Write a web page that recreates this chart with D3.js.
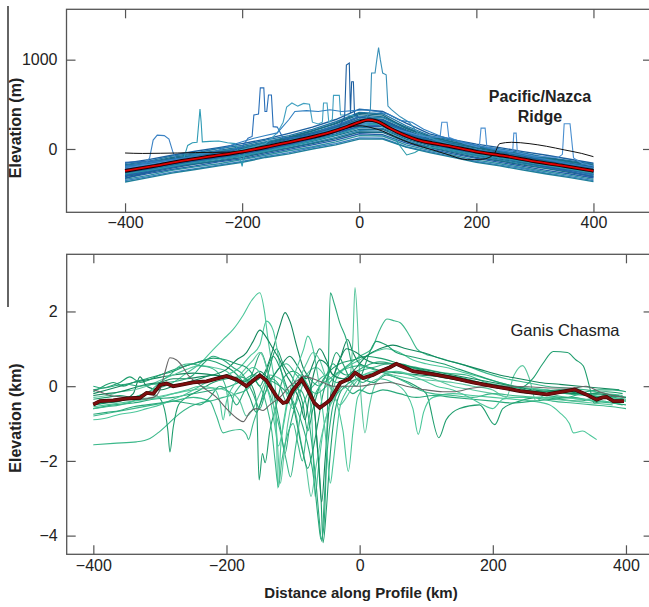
<!DOCTYPE html>
<html><head><meta charset="utf-8">
<script src="https://cdnjs.cloudflare.com/ajax/libs/d3/7.8.5/d3.min.js"></script>
<style>
html,body{margin:0;padding:0;background:#fff;}
svg{display:block;}
.tick text{font-family:"Liberation Sans",Arial,sans-serif;fill:#222;}
</style></head>
<body>
<svg id="chart" width="649" height="607"></svg>
<script>
// ---------------- DATA ----------------
const xTicks = [-400, -200, 0, 200, 400];
const ridgeYTicks = [0, 1000];
const ganisYTicks = [-4, -2, 0, 2];

// Pacific/Nazca Ridge: common distance grid (km) for the dense band of profiles
const ridgeX = [-400,-360,-320,-280,-240,-200,-160,-120,-80,-40,0,40,80,120,160,200,240,280,320,360,400];
// elevation (m) of each band profile on ridgeX
const ridgeBand = [
  [-160,-120,-70,-25,15,60,110,175,245,330,445,420,290,170,105,55,15,-30,-70,-115,-160],
  [-175,-135,-80,-45,5,40,100,150,220,305,410,395,260,150,95,35,0,-45,-95,-130,-170],
  [-185,-150,-95,-55,-15,25,80,135,205,280,385,360,245,130,75,30,-20,-55,-105,-150,-185],
  [-200,-155,-110,-60,-25,15,75,125,185,265,365,350,230,125,65,15,-25,-70,-110,-155,-200],
  [-210,-170,-115,-80,-35,0,55,120,180,250,355,330,215,110,60,10,-40,-80,-125,-165,-205],
  [-220,-175,-125,-85,-45,-10,50,100,165,245,335,325,200,105,45,-10,-45,-90,-135,-170,-220],
  [-230,-185,-135,-90,-55,-15,45,90,160,225,325,305,195,90,40,-15,-55,-95,-145,-185,-230],
  [-240,-190,-145,-105,-60,-25,30,85,145,220,305,295,180,85,30,-25,-65,-110,-150,-195,-235],
  [-250,-205,-150,-115,-75,-35,20,70,135,200,290,280,165,70,20,-35,-75,-120,-165,-205,-250],
  [-260,-215,-165,-120,-85,-40,10,60,120,190,270,265,150,60,10,-45,-80,-130,-175,-215,-260],
  [-270,-225,-170,-135,-90,-55,0,55,110,170,255,250,135,55,0,-50,-95,-140,-180,-225,-270],
  [-280,-235,-185,-140,-105,-60,-10,40,100,160,240,230,125,45,-5,-65,-100,-150,-195,-235,-280],
  [-290,-240,-195,-155,-110,-75,-20,30,85,150,220,220,110,35,-20,-75,-115,-160,-205,-240,-290],
  [-300,-255,-200,-165,-125,-80,-30,15,70,130,205,200,95,20,-30,-80,-125,-170,-215,-255,-300],
  [-310,-265,-215,-170,-135,-95,-40,10,60,115,190,185,80,15,-40,-95,-135,-180,-220,-265,-310],
  [-325,-275,-230,-190,-145,-110,-55,-5,45,100,170,160,65,0,-55,-105,-150,-195,-240,-280,-325],
  [-340,-295,-240,-200,-165,-120,-70,-20,25,80,150,145,45,-15,-70,-125,-165,-210,-255,-295,-340],
  [-355,-310,-260,-220,-180,-140,-85,-40,15,60,125,120,25,-30,-85,-140,-180,-220,-270,-310,-355],
  [-370,-320,-270,-230,-190,-150,-95,-55,0,45,110,110,20,-40,-95,-150,-190,-235,-280,-320,-365],
  [-150,-140,-120,-95,-60,-40,20,90,170,260,360,300,160,80,20,-50,-90,-140,-180,-230,-290],
  [-330,-260,-190,-130,-80,-25,40,110,170,230,330,320,200,100,40,-20,-55,-95,-135,-170,-205],
  [-200,-180,-140,-110,-80,-45,0,60,130,200,280,300,190,100,50,-5,-55,-100,-150,-200,-260],
  [-270,-215,-150,-100,-60,-20,40,95,160,240,330,305,170,90,35,-20,-60,-100,-140,-185,-230],
  [-235,-195,-160,-125,-80,-35,15,70,150,230,315,290,175,80,20,-35,-80,-125,-170,-210,-255],
  [-195,-165,-105,-75,-40,5,65,130,200,290,400,380,230,140,80,20,-30,-60,-100,-140,-180],
  [-300,-245,-205,-150,-100,-65,-5,50,115,185,250,260,140,65,5,-60,-100,-145,-200,-250,-315]
];
// profiles with isolated seamount spikes: [km, m]
const ridgeSpikes = [
  [[-400,-200],[-380,-185],[-365,-170],[-358,-100],[-352,100],[-345,155],[-333,150],[-325,110],[-318,-40],[-312,-120],[-290,-110],[-260,-75],[-230,-50],[-200,-20],[-160,30],[-120,95],[-80,155],[-40,230],[0,320],[30,300],[60,210],[100,110],[140,55],[180,0],[220,-40],[260,-85],[300,-130],[340,-170],[370,-200],[400,-230]],
  [[-400,-230],[-360,-185],[-320,-140],[-300,-110],[-293,40],[-285,70],[-277,75],[-274,300],[-272,448],[-270,300],[-268,80],[-255,85],[-240,90],[-225,70],[-212,60],[-205,-60],[-200,-195],[-196,-40],[-185,10],[-150,50],[-110,110],[-70,170],[-30,240],[0,290],[40,270],[80,160],[120,70],[160,15],[200,-40],[240,-80],[280,-125],[320,-170],[360,-210],[400,-250]],
  [[-400,-220],[-350,-170],[-300,-115],[-250,-60],[-220,-20],[-200,20],[-190,120],[-183,140],[-180,380],[-172,390],[-169,684],[-163,684],[-161,420],[-158,420],[-155,605],[-150,605],[-147,250],[-140,245],[-130,120],[-100,130],[-60,190],[-20,260],[0,310],[30,300],[70,200],[110,100],[150,50],[200,-20],[250,-80],[300,-130],[350,-180],[400,-240]],
  [[-400,-250],[-340,-175],[-280,-105],[-230,-55],[-190,10],[-160,60],[-140,180],[-130,300],[-124,470],[-115,515],[-105,480],[-95,510],[-85,500],[-80,300],[-70,280],[-63,300],[-61,515],[-55,515],[-52,300],[-46,330],[-44,600],[-34,600],[-32,380],[-20,380],[0,360],[20,330],[40,250],[80,140],[120,80],[160,30],[200,-25],[250,-80],[300,-135],[350,-185],[400,-240]],
  [[-400,-265],[-350,-210],[-300,-150],[-250,-100],[-200,-50],[-150,15],[-100,90],[-60,160],[-35,230],[-25,360],[-22,940],[-17,962],[-15,400],[-13,752],[-10,752],[-8,380],[0,350],[15,360],[40,290],[80,170],[120,80],[160,20],[200,-40],[250,-90],[300,-145],[350,-195],[400,-250]],
  [[-400,-235],[-350,-180],[-300,-125],[-250,-75],[-200,-25],[-150,40],[-100,105],[-50,190],[-10,280],[10,330],[19,430],[21,850],[27,850],[30,1000],[33,1134],[36,1000],[40,850],[46,830],[49,480],[55,440],[70,360],[85,300],[100,180],[130,100],[160,40],[200,-20],[250,-75],[300,-130],[350,-185],[400,-240]],
  [[-400,-280],[-350,-230],[-300,-170],[-250,-120],[-200,-70],[-150,-10],[-100,60],[-50,140],[-10,220],[20,280],[41,290],[55,170],[70,30],[81,-67],[95,-40],[110,20],[140,10],[180,-40],[220,-80],[260,-120],[300,-165],[350,-215],[400,-270]],
  [[-400,-215],[-340,-150],[-280,-90],[-220,-40],[-160,20],[-100,100],[-50,180],[0,290],[30,300],[70,210],[110,140],[138,130],[141,300],[150,300],[153,130],[180,60],[205,20],[208,233],[215,233],[218,20],[240,-10],[262,-30],[264,177],[268,177],[270,-40],[300,-80],[340,-95],[347,-60],[350,282],[360,282],[366,-100],[380,-160],[400,-190]],
  [[-400,-190],[-300,-100],[-250,-40],[-220,40],[-200,80],[-180,120],[-160,150],[-140,180],[-120,330],[-110,420],[-90,430],[-70,420],[-50,440],[-30,420],[-10,430],[10,440],[30,420],[50,390],[70,320],[90,300],[110,220],[140,140],[170,90],[200,40],[240,-20],[280,-70],[320,-120],[360,-170],[400,-210]]
];
const ridgeBlack = [[-400,-45],[-370,-50],[-340,-48],[-310,-45],[-280,-40],[-250,-38],[-220,-35],[-200,-25],[-170,10],[-140,50],[-100,110],[-60,170],[-30,220],[0,260],[20,240],[40,200],[60,140],[90,60],[120,0],[150,-60],[185,-120],[210,-115],[230,-60],[240,60],[260,75],[290,60],[320,30],[350,-10],[380,-50],[400,-86]];
const ridgeMean = [[-400,-245],[-350,-190],[-300,-130],[-250,-80],[-200,-30],[-150,35],[-100,105],[-50,185],[-20,250],[0,300],[15,325],[30,310],[50,240],[75,160],[100,100],[125,65],[150,37],[200,-30],[250,-80],[300,-140],[350,-190],[400,-245]];

// Ganis Chasma profiles: [km, km]
const ganisProfiles = [
  [[-400,-1.57],[-370,-1.53],[-335,-1.49],[-315,-1.4],[-303,-1.25],[-290,-1.05],[-275,-0.8],[-255,-0.55],[-240,-0.45],[-225,-0.4],[-205,-0.3],[-185,-0.2],[-170,-0.1],[-160,0.1],[-150,0.3],[-140,0.0],[-128,-0.6],[-118,-1.3],[-110,-2.0],[-104,-2.43],[-96,-1.6],[-88,-0.7],[-78,-0.2],[-65,0.1],[-50,0.3],[-35,0.1],[-20,0.2],[0,0.4],[20,0.5],[45,0.6],[70,0.55],[100,0.45],[130,0.35],[160,0.3],[190,0.1],[220,0.0],[250,-0.05],[280,-0.1],[310,-0.2],[340,-0.25],[370,-0.3],[395,-0.35]],
  [[-400,-0.35],[-380,-0.3],[-360,-0.25],[-340,-0.3],[-320,-0.2],[-305,-0.25],[-295,-0.5],[-288,-1.2],[-285,-1.76],[-280,-1.1],[-272,-0.5],[-260,-0.3],[-240,-0.1],[-220,0.1],[-200,0.2],[-180,0.25],[-165,0.1],[-155,-0.4],[-151,-2.51],[-146,-1.8],[-142,-2.05],[-135,-1.2],[-125,-0.5],[-115,0.2],[-100,0.4],[-85,0.2],[-70,-0.3],[-64,-1.5],[-58,-3.0],[-55,-4.19],[-50,-3.3],[-45,-2.0],[-38,-0.8],[-30,-0.2],[-15,0.1],[0,0.2],[20,0.1],[40,0.3],[60,0.2],[85,0.0],[100,-0.2],[119,-1.38],[130,-0.9],[150,-0.6],[180,-0.5],[203,-1.03],[215,-0.6],[240,-0.4],[270,-0.3],[300,-0.35],[330,-0.4],[360,-0.3],[385,-0.35],[400,-0.4]],
  [[-400,-0.5],[-370,-0.4],[-340,-0.3],[-310,-0.1],[-280,0.1],[-260,0.35],[-240,0.6],[-220,0.98],[-205,1.25],[-190,1.52],[-175,1.9],[-162,2.3],[-150,2.5],[-143,2.0],[-138,1.3],[-132,0.6],[-126,-0.2],[-123,-2.73],[-118,-1.5],[-110,-0.5],[-100,0.0],[-90,0.3],[-80,0.1],[-72,-0.8],[-67,-2.95],[-62,-2.2],[-55,-1.2],[-45,-0.5],[-35,0.2],[-20,0.5],[0,0.7],[20,0.9],[40,1.0],[60,0.9],[80,0.7],[100,0.6],[130,0.5],[160,0.35],[190,0.2],[220,0.05],[250,-0.05],[280,-0.1],[310,-0.15],[340,-0.2],[370,-0.25],[400,-0.3]],
  [[-400,-0.2],[-380,-0.1],[-360,0.0],[-340,0.1],[-310,0.2],[-280,0.3],[-250,0.35],[-220,0.3],[-190,0.2],[-165,0.1],[-145,0.3],[-130,1.0],[-120,1.6],[-112,1.97],[-104,1.7],[-95,1.1],[-85,0.5],[-75,0.1],[-67,-0.8],[-62,-2.0],[-57,-3.1],[-52,-2.0],[-46,-0.6],[-38,0.3],[-28,0.8],[-18,1.25],[-10,0.9],[0,0.6],[15,0.5],[35,0.4],[60,0.35],[90,0.3],[120,0.25],[150,0.15],[180,0.05],[210,-0.05],[240,-0.1],[270,-0.15],[300,-0.1],[330,-0.2],[360,-0.3],[390,-0.25]],
  [[-400,-0.6],[-370,-0.5],[-340,-0.45],[-310,-0.35],[-280,-0.3],[-250,-0.2],[-220,-0.1],[-195,0.0],[-175,0.15],[-160,0.3],[-140,0.2],[-120,0.0],[-100,-0.4],[-85,-1.1],[-75,-1.8],[-68,-2.6],[-62,-3.6],[-58,-4.1],[-54,-3.8],[-50,-2.0],[-47,0.5],[-44,2.5],[-38,2.2],[-30,1.7],[-20,1.25],[-12,0.6],[-5,0.2],[5,0.1],[20,0.3],[40,0.5],[60,0.6],[80,0.5],[110,0.3],[140,0.2],[170,0.1],[200,0.0],[230,-0.1],[260,-0.2],[290,-0.2],[320,-0.1],[350,-0.25],[380,-0.3],[400,-0.35]],
  [[-400,-0.45],[-370,-0.4],[-340,-0.35],[-310,-0.3],[-280,-0.2],[-250,-0.1],[-220,-0.05],[-195,-0.15],[-180,-0.4],[-170,-0.8],[-160,-0.6],[-150,-0.2],[-135,0.3],[-120,0.2],[-105,-0.2],[-95,-0.8],[-88,-1.5],[-80,-2.2],[-73,-2.95],[-66,-2.2],[-58,-1.4],[-48,-0.7],[-38,-0.3],[-28,-0.1],[-20,0.0],[-14,0.3],[-10,1.3],[-7,2.64],[-3,1.6],[0,0.3],[3,-0.5],[8,-1.25],[14,-0.6],[22,0.0],[35,0.3],[55,0.4],[80,0.3],[110,0.2],[140,0.0],[170,-0.1],[200,-0.2],[230,-0.3],[260,-0.3],[290,-0.35],[320,-0.4],[350,-0.45],[380,-0.5]],
  [[-400,-0.8],[-370,-0.7],[-340,-0.6],[-310,-0.5],[-280,-0.4],[-250,-0.3],[-225,-0.4],[-215,-0.8],[-205,-1.25],[-195,-1.2],[-180,-1.16],[-170,-1.3],[-167,-1.43],[-160,-1.0],[-150,-0.5],[-140,-0.1],[-125,0.4],[-110,0.6],[-95,0.3],[-80,0.0],[-65,-0.2],[-50,0.0],[-35,0.3],[-15,0.6],[0,0.8],[18,1.0],[30,1.5],[41,1.8],[52,1.75],[61,1.7],[75,1.35],[86,1.0],[100,0.85],[111,0.8],[130,0.7],[160,0.55],[190,0.35],[220,0.2],[250,0.1],[280,0.0],[310,-0.05],[340,-0.1],[370,-0.2],[395,-0.25]],
  [[-400,-0.1],[-375,0.0],[-360,0.1],[-345,0.25],[-330,0.1],[-300,0.3],[-270,0.5],[-250,0.6],[-230,0.7],[-210,0.6],[-190,0.4],[-175,0.1],[-165,-0.3],[-155,-0.7],[-145,-0.2],[-135,0.5],[-125,1.0],[-115,0.6],[-100,0.2],[-85,-0.5],[-78,-1.2],[-70,-0.6],[-60,0.0],[-45,0.4],[-30,0.6],[-10,0.7],[10,0.8],[30,0.75],[60,0.6],[90,0.45],[120,0.3],[150,0.2],[180,0.1],[210,0.0],[240,-0.05],[260,0.2],[275,0.6],[291,0.93],[312,0.9],[325,0.7],[336,0.54],[345,0.0],[352,-0.45],[365,-0.4],[380,-0.45],[395,-0.5]],
  [[-400,-0.9],[-380,-0.85],[-360,-0.75],[-340,-0.7],[-320,-0.6],[-300,-0.5],[-280,-0.35],[-260,-0.2],[-240,0.0],[-220,0.2],[-200,0.3],[-180,0.5],[-165,0.8],[-150,1.1],[-140,1.74],[-130,1.5],[-120,0.6],[-110,-0.2],[-100,-0.6],[-90,-0.2],[-80,0.3],[-65,0.5],[-50,0.2],[-35,-0.4],[-25,-1.2],[-17,-2.28],[-10,-1.2],[-3,-0.3],[10,0.0],[30,0.2],[50,0.1],[70,-0.2],[80,-0.6],[88,-1.29],[96,-0.7],[110,-0.3],[140,-0.2],[170,-0.25],[200,-0.3],[230,-0.35],[260,-0.4],[285,-0.5],[300,-0.7],[315,-1.0],[321,-1.25],[335,-1.2],[345,-1.3],[356,-1.43]],
  [[-400,-0.5],[-380,-0.45],[-360,-0.4],[-340,-0.2],[-330,0.25],[-320,0.0],[-300,-0.1],[-280,0.0],[-260,0.1],[-240,0.2],[-220,0.3],[-200,0.25],[-180,0.1],[-165,0.2],[-150,0.4],[-135,0.2],[-120,0.5],[-105,0.8],[-92,0.5],[-80,0.2],[-70,0.6],[-60,1.0],[-50,0.7],[-40,0.3],[-30,0.7],[-20,1.0],[-5,0.9],[10,0.7],[30,0.6],[55,0.6],[80,0.5],[110,0.4],[140,0.3],[170,0.2],[200,0.1],[230,0.0],[260,-0.1],[290,-0.15],[320,-0.2],[350,-0.2],[380,-0.25],[400,-0.3]],
  [[-400,-0.75],[-380,-0.7],[-360,-0.65],[-340,-0.55],[-320,-0.5],[-300,-0.45],[-280,-0.4],[-260,-0.45],[-240,-0.5],[-225,-0.3],[-210,0.0],[-195,-0.2],[-185,-0.5],[-175,-0.2],[-160,0.4],[-148,0.9],[-138,0.4],[-128,-0.3],[-120,-1.0],[-112,-1.8],[-106,-1.2],[-98,-0.6],[-90,-0.1],[-80,-0.5],[-72,-1.5],[-66,-2.5],[-61,-3.5],[-57,-4.15],[-53,-3.0],[-48,-1.6],[-42,-0.7],[-34,-0.2],[-24,0.0],[-10,-0.2],[0,-0.1],[15,-0.2],[35,-0.1],[60,-0.2],[85,-0.3],[110,-0.25],[140,-0.3],[170,-0.35],[200,-0.4],[230,-0.45],[260,-0.4],[290,-0.35],[320,-0.3],[350,-0.4],[380,-0.45],[400,-0.5]],
  [[-400,-0.3],[-380,-0.25],[-360,-0.15],[-340,-0.1],[-320,0.0],[-300,0.15],[-280,0.3],[-260,0.45],[-240,0.55],[-220,0.5],[-200,0.4],[-185,0.2],[-175,0.4],[-160,0.7],[-150,0.9],[-140,0.5],[-130,-0.4],[-124,-1.4],[-119,-2.6],[-114,-1.9],[-108,-1.0],[-100,-0.3],[-90,0.2],[-80,0.6],[-70,0.9],[-60,0.7],[-50,0.2],[-40,-0.2],[-30,-0.5],[-20,-0.3],[-10,0.0],[5,0.3],[25,0.4],[50,0.3],[80,0.2],[110,0.15],[140,0.1],[170,0.0],[200,-0.1],[220,-0.3],[232,0.3],[245,0.55],[255,0.2],[265,-0.4],[280,-0.2],[310,-0.3],[340,-0.35],[370,-0.3],[400,-0.4]],
  [[-400,-0.6],[-380,-0.55],[-360,-0.5],[-340,-0.4],[-320,-0.2],[-300,0.1],[-285,0.3],[-270,0.54],[-255,0.6],[-240,0.55],[-225,0.5],[-210,0.3],[-200,-0.1],[-195,-0.8],[-190,-0.3],[-180,0.0],[-165,0.2],[-150,0.0],[-140,-0.5],[-132,-1.2],[-127,-2.0],[-122,-2.7],[-117,-2.0],[-110,-1.4],[-100,-1.0],[-92,-1.6],[-86,-2.0],[-80,-1.3],[-72,-0.5],[-60,0.0],[-45,0.2],[-30,0.4],[-15,0.5],[0,0.55],[20,0.45],[45,0.3],[70,0.1],[90,-0.1],[110,-0.2],[140,-0.25],[170,-0.3],[200,-0.2],[230,-0.25],[260,-0.3],[290,-0.4],[320,-0.45],[350,-0.5],[380,-0.55],[400,-0.6]],
  [[-400,-0.15],[-385,0.0],[-370,0.1],[-355,0.0],[-340,0.1],[-320,0.2],[-300,0.3],[-280,0.4],[-260,0.55],[-240,0.65],[-220,0.75],[-200,0.7],[-185,0.6],[-170,0.5],[-160,0.3],[-150,0.0],[-140,0.4],[-130,0.8],[-120,0.5],[-110,0.0],[-100,-0.5],[-92,-1.2],[-85,-1.8],[-78,-2.2],[-70,-1.7],[-62,-0.9],[-55,-0.2],[-45,0.4],[-35,0.9],[-25,0.6],[-15,0.2],[-5,0.0],[5,0.4],[15,0.9],[25,1.2],[40,1.1],[55,0.9],[75,0.8],[100,0.7],[125,0.6],[150,0.45],[175,0.3],[200,0.15],[230,0.0],[250,-0.1],[280,-0.15],[310,-0.1],[340,-0.2],[370,-0.15],[395,-0.2]],
  [[-400,-0.55],[-380,-0.5],[-360,-0.45],[-340,-0.4],[-320,-0.35],[-300,-0.3],[-280,-0.2],[-260,-0.1],[-240,0.0],[-220,-0.05],[-210,-0.4],[-205,-0.9],[-200,-0.4],[-190,0.0],[-175,0.3],[-160,0.5],[-145,0.2],[-135,-0.3],[-128,-1.0],[-122,-1.6],[-115,-1.1],[-108,-0.4],[-100,0.2],[-92,0.6],[-84,1.0],[-78,1.34],[-70,1.0],[-64,0.4],[-58,-0.3],[-52,-1.2],[-48,-2.0],[-44,-2.6],[-40,-2.1],[-35,-1.3],[-30,-0.6],[-22,-0.2],[-10,0.1],[5,0.3],[20,0.35],[40,0.4],[65,0.35],[90,0.2],[115,0.0],[140,-0.1],[165,-0.3],[185,-0.5],[200,-0.6],[215,-0.35],[240,-0.3],[270,-0.3],[300,-0.3],[330,-0.35],[360,-0.4],[390,-0.45]],
  [[-400,-0.25],[-380,-0.2],[-360,-0.15],[-340,-0.05],[-320,0.05],[-300,0.1],[-280,0.2],[-260,0.2],[-240,0.25],[-220,0.3],[-200,0.45],[-185,0.7],[-170,0.9],[-160,1.2],[-150,1.5],[-140,1.3],[-130,1.0],[-120,0.7],[-110,0.3],[-100,0.0],[-90,-0.4],[-82,-0.9],[-76,-0.3],[-68,0.4],[-60,0.7],[-50,0.6],[-40,0.3],[-25,0.2],[-10,0.4],[10,0.8],[30,1.0],[50,1.1],[70,1.0],[95,0.9],[120,0.75],[150,0.6],[180,0.45],[210,0.3],[240,0.2],[270,0.1],[300,0.05],[330,0.0],[360,-0.05],[390,-0.1]],
  [[-400,0.0],[-385,-0.05],[-370,0.0],[-350,0.05],[-330,0.0],[-310,0.05],[-290,0.1],[-270,0.15],[-250,0.3],[-235,0.6],[-220,0.8],[-205,0.7],[-190,0.5],[-175,0.3],[-160,-0.2],[-150,-0.6],[-142,-0.2],[-132,0.2],[-120,0.0],[-110,-0.4],[-100,-0.2],[-90,0.0],[-80,0.3],[-70,0.1],[-60,0.0],[-50,0.3],[-40,0.6],[-30,0.4],[-20,0.3],[-5,0.4],[10,0.55],[30,0.65],[50,0.6],[75,0.5],[100,0.4],[130,0.3],[160,0.2],[190,0.05],[220,-0.05],[250,-0.15],[280,-0.25],[310,-0.3],[340,-0.15],[360,-0.1],[380,-0.1],[400,-0.15]]
];
const ganisGray = [[-400,-0.1],[-390,-0.15],[-375,-0.25],[-350,-0.3],[-330,-0.35],[-310,-0.3],[-300,-0.1],[-292,0.4],[-285,0.76],[-275,0.7],[-265,0.5],[-258,0.3],[-245,0.1],[-230,-0.1],[-215,-0.3],[-200,-0.6],[-185,-0.85],[-175,-0.95],[-165,-0.7],[-155,-0.6],[-145,-0.65],[-135,-0.5],[-120,-0.3],[-105,0.0],[-90,0.2],[-85,0.27],[-70,0.2],[-55,0.1],[-40,0.0],[-20,0.0],[0,0.0],[20,0.05],[45,0.1],[70,0.0],[100,-0.1],[125,-0.15],[140,-0.15],[170,-0.05],[200,0.0],[230,0.0],[260,-0.02],[290,-0.05],[320,-0.05],[340,0.0],[360,-0.15],[380,-0.25],[397,-0.3]];
const ganisMean = [[-400,-0.49],[-390,-0.4],[-370,-0.38],[-350,-0.33],[-330,-0.31],[-320,-0.18],[-310,-0.2],[-300,0.03],[-290,0.07],[-280,0.0],[-265,0.05],[-250,0.1],[-230,0.13],[-215,0.2],[-200,0.27],[-185,0.18],[-170,0.0],[-160,0.15],[-150,0.29],[-140,0.15],[-125,-0.27],[-115,-0.45],[-109,-0.42],[-100,-0.1],[-87,0.18],[-78,-0.1],[-68,-0.45],[-60,-0.58],[-50,-0.45],[-44,-0.36],[-29,0.09],[-15,0.2],[-7,0.36],[5,0.22],[20,0.3],[31,0.4],[45,0.5],[55,0.6],[70,0.48],[80,0.4],[110,0.32],[140,0.22],[170,0.1],[200,0.0],[220,-0.06],[241,-0.13],[260,-0.17],[281,-0.22],[300,-0.16],[323,-0.09],[340,-0.22],[356,-0.36],[365,-0.3],[371,-0.29],[381,-0.4],[397,-0.4]];

// ---------------- DRAW ----------------
const svg = d3.select("#chart");
const FONT = '"Liberation Sans", Arial, sans-serif';
const frameColor = "#555";

const bandColors = ["#1c5f9e","#2177a8","#1b6e8e","#2a86b0","#176a86","#245fa8","#2c8fa0","#3a7fc0","#1f7f9a","#2b6db0"];
const spikeColors = ["#3b82c4","#2f9bb5","#2a6fb8","#41a0c0","#1e5fa0","#3990b8","#2a9aa8","#4a8fd0","#2f7fc0"];
const greenColors = ["#3bb88a","#1f9e6e","#4cc79a","#12875c","#2aa97b","#5cc79f"];

function panel(cfg){
  const g = svg.append("g");
  const x = d3.scaleLinear().domain(cfg.xDomain).range(cfg.xRange);
  const y = d3.scaleLinear().domain(cfg.yDomain).range(cfg.yRange);
  const [x0,x1] = cfg.xRange, [y1,y0] = cfg.yRange;
  g.append("rect").attr("x",x0).attr("y",y0).attr("width",x1-x0).attr("height",y1-y0)
    .attr("fill","none").attr("stroke",frameColor).attr("stroke-width",1.3);
  const axStyle = sel => { sel.select(".domain").remove(); sel.selectAll(".tick line").attr("stroke",frameColor).attr("stroke-width",1.2); };
  g.append("g").attr("transform",`translate(0,${y1})`)
    .call(d3.axisBottom(x).tickValues(xTicks).tickSize(-9).tickPadding(cfg.xPad).tickFormat(d3.format("")))
    .call(axStyle).selectAll("text").style("font-size",cfg.tickFont).attr("fill","#222");
  g.append("g").attr("transform",`translate(0,${y0})`)
    .call(d3.axisTop(x).tickValues(xTicks).tickSize(-9).tickFormat(""))
    .call(axStyle);
  g.append("g").attr("transform",`translate(${x0},0)`)
    .call(d3.axisLeft(y).tickValues(cfg.yTicks).tickSize(-9).tickPadding(9).tickFormat(d3.format("")))
    .call(axStyle).selectAll("text").style("font-size",cfg.tickFont).attr("fill","#222");
  g.append("g").attr("transform",`translate(${x1},0)`)
    .call(d3.axisRight(y).tickValues(cfg.yTicks).tickSize(-9).tickFormat(""))
    .call(axStyle);
  const line = d3.line().x(d=>x(d[0])).y(d=>y(d[1]));
  const smooth = d3.line().x(d=>x(d[0])).y(d=>y(d[1])).curve(d3.curveMonotoneX);
  return {g,x,y,line,smooth};
}

// ---- top panel ----
const topP = panel({xDomain:[-500,500], xRange:[66.5,652], yDomain:[-709,1564], yRange:[212.3,9.3],
  yTicks:ridgeYTicks, tickFont:"16px", xPad:4});
const tl = topP.g.append("g");
ridgeBand.forEach((vals,i)=>{
  tl.append("path").attr("d", topP.line(ridgeX.map((xv,j)=>[xv, vals[j]])))
    .attr("fill","none").attr("stroke",bandColors[i%bandColors.length]).attr("stroke-width",1.35);
});
ridgeSpikes.forEach((pts,i)=>{
  tl.append("path").attr("d", topP.line(pts))
    .attr("fill","none").attr("stroke",spikeColors[i%spikeColors.length]).attr("stroke-width",1.1);
});
tl.append("path").attr("d", topP.smooth(ridgeBlack)).attr("fill","none").attr("stroke","#111").attr("stroke-width",1);
tl.append("path").attr("d", topP.smooth(ridgeMean)).attr("fill","none").attr("stroke","#1a0000").attr("stroke-width",3.6);
tl.append("path").attr("d", topP.smooth(ridgeMean)).attr("fill","none").attr("stroke","#e00000").attr("stroke-width",1.8);

topP.g.append("text").attr("x",540).attr("y",102).attr("text-anchor","middle")
  .style("font-family",FONT).style("font-size","16px").style("font-weight","bold").attr("fill","#222").text("Pacific/Nazca");
topP.g.append("text").attr("x",540).attr("y",122).attr("text-anchor","middle")
  .style("font-family",FONT).style("font-size","16px").style("font-weight","bold").attr("fill","#222").text("Ridge");
topP.g.append("text").attr("transform","translate(21,128) rotate(-90)").attr("text-anchor","middle")
  .style("font-family",FONT).style("font-size","16px").style("font-weight","bold").attr("fill","#222").text("Elevation (m)");

// ---- bottom panel ----
const botP = panel({xDomain:[-440,440], xRange:[66.7,652.6], yDomain:[-4.5,3.53], yRange:[554.3,254.3],
  yTicks:ganisYTicks, tickFont:"16px", xPad:5});
const bl = botP.g.append("g");
ganisProfiles.forEach((pts,i)=>{
  bl.append("path").attr("d", botP.smooth(pts))
    .attr("fill","none").attr("stroke",greenColors[i%greenColors.length]).attr("stroke-width",1.1);
});
bl.append("path").attr("d", botP.smooth(ganisGray)).attr("fill","none").attr("stroke","#666").attr("stroke-width",1.1);
bl.append("path").attr("d", botP.line(ganisMean)).attr("fill","none").attr("stroke","#3a0505").attr("stroke-width",3.8);
bl.append("path").attr("d", botP.line(ganisMean)).attr("fill","none").attr("stroke","#7d0e0e").attr("stroke-width",2.6);

botP.g.append("text").attr("x",565).attr("y",336).attr("text-anchor","middle")
  .style("font-family",FONT).style("font-size","16.5px").attr("fill","#222").text("Ganis Chasma");
botP.g.append("text").attr("transform","translate(21,418) rotate(-90)").attr("text-anchor","middle")
  .style("font-family",FONT).style("font-size","16px").style("font-weight","bold").attr("fill","#222").text("Elevation (km)");
svg.append("text").attr("x",361).attr("y",598).attr("text-anchor","middle")
  .style("font-family",FONT).style("font-size","15px").style("font-weight","bold").attr("fill","#222").text("Distance along Profile (km)");

svg.append("line").attr("x1",8).attr("x2",8).attr("y1",6).attr("y2",307).attr("stroke","#111").attr("stroke-width",1.3);
</script>
</body></html>
